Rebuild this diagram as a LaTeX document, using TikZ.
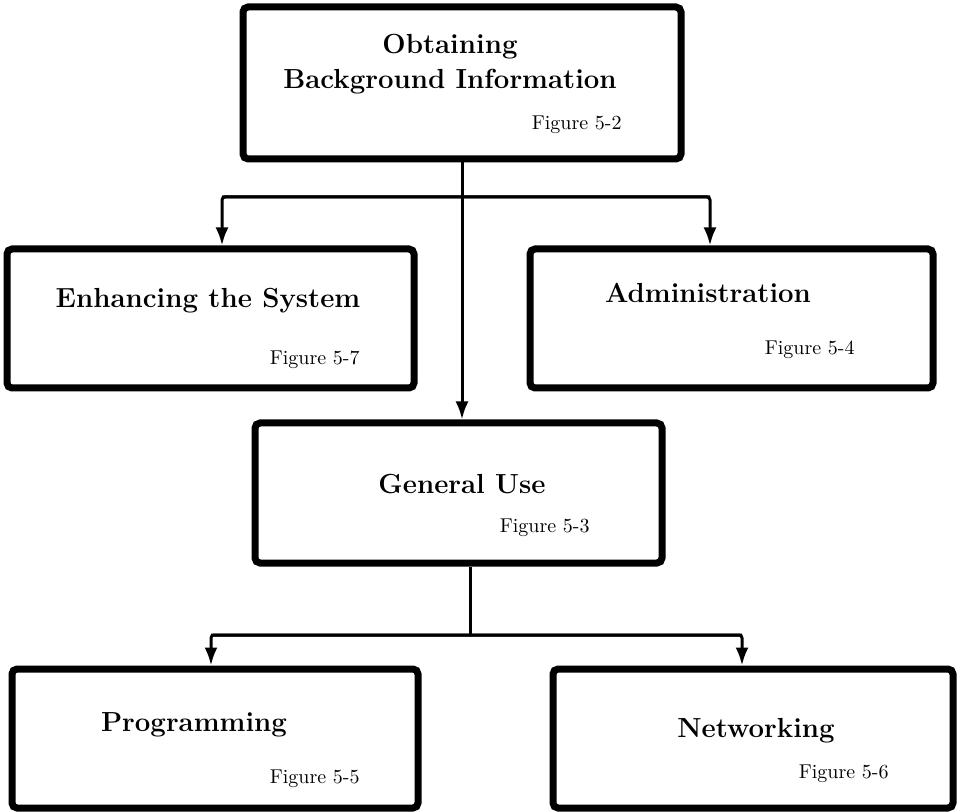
\documentclass[tikz,border=0pt]{standalone}
\usetikzlibrary{arrows.meta}

% one pixel of the drawing
\def\px{0.5pt}

\begin{document}
\begin{tikzpicture}[x=\px, y=-\px,
	box/.style={draw, line width=3.5pt, rounded corners=2.5pt, inner sep=0pt, minimum height=139*\px},
	title/.style={font=\fontsize{13.8}{17.5}\selectfont\bfseries, anchor=base, inner sep=0pt, align=center},
	fig/.style={font=\normalsize, anchor=base east, inner sep=0pt},
	link/.style={line width=1.5pt, rounded corners=1.5pt},
	arr/.style={link, -{Latex[length=9pt, width=6.5pt]}}]

	\useasboundingbox (0,0) rectangle (958,812);

	% ---- boxes

	\node[box, minimum width=438*\px, minimum height=152*\px] (info) at (462,83) {};
	\node[box, minimum width=407*\px] (enh) at (210.5,318.5) {};
	\node[box, minimum width=403*\px] (adm) at (731.5,318.5) {};
	\node[box, minimum width=407*\px, minimum height=140*\px] (gen) at (458.5,493) {};
	\node[box, minimum width=406*\px] (prog) at (215,738.5) {};
	\node[box, minimum width=400*\px] (net) at (753,738.5) {};

	% ---- titles

	\node[title, anchor=center] (info-t) at (450,64) {Obtaining\\Background Information};
	\node[title] (enh-t) at (208,308) {Enhancing the System};
	\node[title] (adm-t) at (708,303) {Administration};
	\node[title] (gen-t) at (462,493) {General Use};
	\node[title] (prog-t) at (194,731) {Programming};
	\node[title] (net-t) at (756,737) {Networking};

	% ---- figure numbers

	\node[fig] (info-f) at (622,130) {Figure 5-2};
	\node[fig] (enh-f) at (360,365) {Figure 5-7};
	\node[fig] (adm-f) at (855,355) {Figure 5-4};
	\node[fig] (gen-f) at (590,532) {Figure 5-3};
	\node[fig] (prog-f) at (360,783) {Figure 5-5};
	\node[fig] (net-f) at (889,778) {Figure 5-6};

	% ---- branch points

	\coordinate (up-l) at (222,197);
	\coordinate (up-r) at (710,197);
	\coordinate (lo) at (470,635);
	\coordinate (lo-l) at (211,635);
	\coordinate (lo-r) at (742,635);

	% ---- connectors

	\draw[arr] (info.south) -- (info.south |- gen.north);
	\draw[arr] (up-r) -- (up-l) -- (up-l |- enh.north);
	\draw[arr] (up-l) -- (up-r) -- (up-r |- adm.north);

	\draw[link] (gen.south -| lo) -- (lo);
	\draw[arr] (lo-r) -- (lo-l) -- (lo-l |- prog.north);
	\draw[arr] (lo-l) -- (lo-r) -- (lo-r |- net.north);

\end{tikzpicture}
\end{document}
